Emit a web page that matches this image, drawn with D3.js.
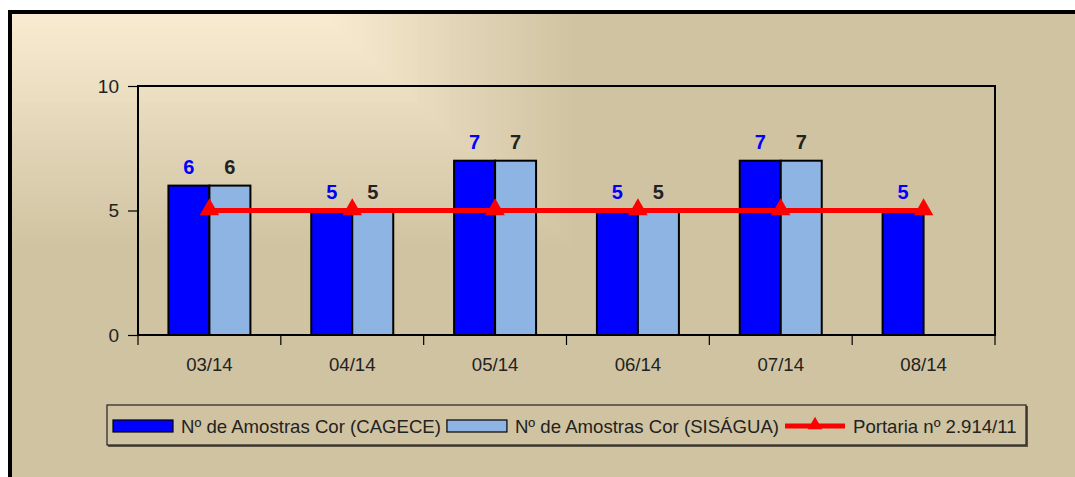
<!DOCTYPE html>
<html>
<head>
<meta charset="utf-8">
<script src="https://cdn.jsdelivr.net/npm/d3@7"></script>
<style>
  body { margin: 0; background: #fff; }
  svg { display: block; font-family: "Liberation Sans", Arial, sans-serif; }
</style>
</head>
<body>
<div id="chart"></div>
<script>
const categories = ["03/14", "04/14", "05/14", "06/14", "07/14", "08/14"];
const cagece = [6, 5, 7, 5, 7, 5];
const sisagua = [6, 5, 7, 5, 7, null];
const portaria = [5, 5, 5, 5, 5, 5];
const yTicks = [0, 5, 10];
const seriesNames = ["Nº de Amostras Cor (CAGECE)", "Nº de Amostras Cor (SISÁGUA)", "Portaria nº 2.914/11"];

const W = 1075, H = 477;
const plot = { left: 138, right: 995, top: 86, bottom: 335 };
const colors = { cagece: "#0000ff", sisagua: "#8eb4e3", line: "#ff0000" };
const FONT = "Liberation Sans, Arial, sans-serif";

const svg = d3.select("#chart").append("svg").attr("width", W).attr("height", H);

// background: rectangular gradient fading from the top-left to tan
const bg = svg.append("g");
const shade = d3.interpolateRgb("#f9ecd2", "#d0c3a1");
const steps = d3.range(40, -1, -1).map((i) => i / 40);
bg.append("rect").attr("x", 10).attr("y", 12).attr("width", W).attr("height", H).attr("fill", "#d0c3a1");
bg.selectAll(".band")
  .data(steps)
  .enter()
  .append("rect")
  .attr("x", 10)
  .attr("y", 12)
  .attr("width", (t) => 310 + 260 * t)
  .attr("height", (t) => 240 * t)
  .attr("fill", (t) => shade(t));

// outer frame
svg.append("rect")
  .attr("x", 10).attr("y", 12)
  .attr("width", W + 20).attr("height", H + 20)
  .attr("fill", "none").attr("stroke", "#000").attr("stroke-width", 4);

const x = d3.scaleBand().domain(categories).range([plot.left, plot.right]);
const y = d3.scaleLinear().domain([0, 10]).range([plot.bottom, plot.top]);
const barW = x.bandwidth() * 0.287;

// plot frame
svg.append("rect")
  .attr("x", plot.left).attr("y", plot.top)
  .attr("width", plot.right - plot.left).attr("height", plot.bottom - plot.top)
  .attr("fill", "none").attr("stroke", "#000").attr("stroke-width", 2);

// y axis
const yAxis = svg.append("g")
  .attr("transform", `translate(${plot.left},0)`)
  .call(d3.axisLeft(y).tickValues(yTicks).tickSize(10).tickSizeOuter(0).tickPadding(9));
yAxis.select(".domain").remove();
yAxis.selectAll("line").attr("stroke", "#000").attr("stroke-width", 1.2);
yAxis.selectAll("text").attr("font-size", 19).attr("fill", "#222").attr("font-family", FONT);

// x axis labels and boundary ticks
const xAxis = svg.append("g")
  .attr("transform", `translate(0,${plot.bottom})`)
  .call(d3.axisBottom(x).tickSize(0).tickPadding(23));
xAxis.select(".domain").remove();
xAxis.selectAll("text").attr("font-size", 18.6).attr("fill", "#222").attr("font-family", FONT);
svg.append("g")
  .selectAll("line")
  .data(categories.map((c) => x(c)).concat([plot.right]))
  .enter()
  .append("line")
  .attr("x1", (d) => d).attr("x2", (d) => d)
  .attr("y1", plot.bottom).attr("y2", plot.bottom + 10)
  .attr("stroke", "#000").attr("stroke-width", 1.2);

const center = (c) => x(c) + x.bandwidth() / 2;

// bars
const bars = svg.append("g");
const series = [
  { values: cagece, color: colors.cagece, offset: -1, label: colors.cagece },
  { values: sisagua, color: colors.sisagua, offset: 0, label: "#222" },
];
series.forEach((s) => {
  const pts = categories
    .map((c, i) => ({ c, v: s.values[i] }))
    .filter((d) => d.v != null);
  bars.selectAll(null)
    .data(pts)
    .enter()
    .append("rect")
    .attr("x", (d) => center(d.c) + s.offset * barW)
    .attr("y", (d) => y(d.v))
    .attr("width", barW)
    .attr("height", (d) => y(0) - y(d.v))
    .attr("fill", s.color)
    .attr("stroke", "#000")
    .attr("stroke-width", 2);
  bars.selectAll(null)
    .data(pts)
    .enter()
    .append("text")
    .attr("x", (d) => center(d.c) + s.offset * barW + barW / 2)
    .attr("y", (d) => y(d.v) - 12)
    .attr("text-anchor", "middle")
    .attr("font-size", 20)
    .attr("font-weight", "bold")
    .attr("fill", s.label)
    .text((d) => d.v);
});

// reference line
const line = d3.line().x((d, i) => center(categories[i])).y((d) => y(d));
svg.append("path")
  .datum(portaria)
  .attr("d", line)
  .attr("fill", "none")
  .attr("stroke", colors.line)
  .attr("stroke-width", 5);
const tri = d3.symbol().type(d3.symbolTriangle).size(165);
svg.append("g")
  .selectAll("path")
  .data(portaria)
  .enter()
  .append("path")
  .attr("d", tri)
  .attr("transform", (d, i) => `translate(${center(categories[i])},${y(d) - 1})`)
  .attr("fill", colors.line);

// legend
const legend = svg.append("g");
legend.append("rect")
  .attr("x", 108).attr("y", 406).attr("width", 920).attr("height", 41)
  .attr("fill", "#5a5242");
legend.append("rect")
  .attr("x", 107).attr("y", 405).attr("width", 919).attr("height", 40)
  .attr("fill", "#d0c3a1").attr("stroke", "#222").attr("stroke-width", 1.2);

let cx = 113;
const ly = 426;
seriesNames.forEach((name, i) => {
  if (i < 2) {
    legend.append("rect")
      .attr("x", cx).attr("y", ly - 6).attr("width", 60).attr("height", 12)
      .attr("fill", i === 0 ? colors.cagece : colors.sisagua)
      .attr("stroke", "#000").attr("stroke-width", 1.2);
  } else {
    legend.append("line")
      .attr("x1", cx).attr("x2", cx + 60).attr("y1", ly).attr("y2", ly)
      .attr("stroke", colors.line).attr("stroke-width", 5);
    legend.append("path")
      .attr("d", d3.symbol().type(d3.symbolTriangle).size(90))
      .attr("transform", `translate(${cx + 30},${ly - 1})`)
      .attr("fill", colors.line);
  }
  const t = legend.append("text")
    .attr("x", cx + 68).attr("y", ly + 7)
    .attr("font-size", 18.6).attr("fill", "#222").attr("font-family", FONT)
    .text(name);
  cx += 68 + t.node().getComputedTextLength() + 6;
});
</script>
</body>
</html>
